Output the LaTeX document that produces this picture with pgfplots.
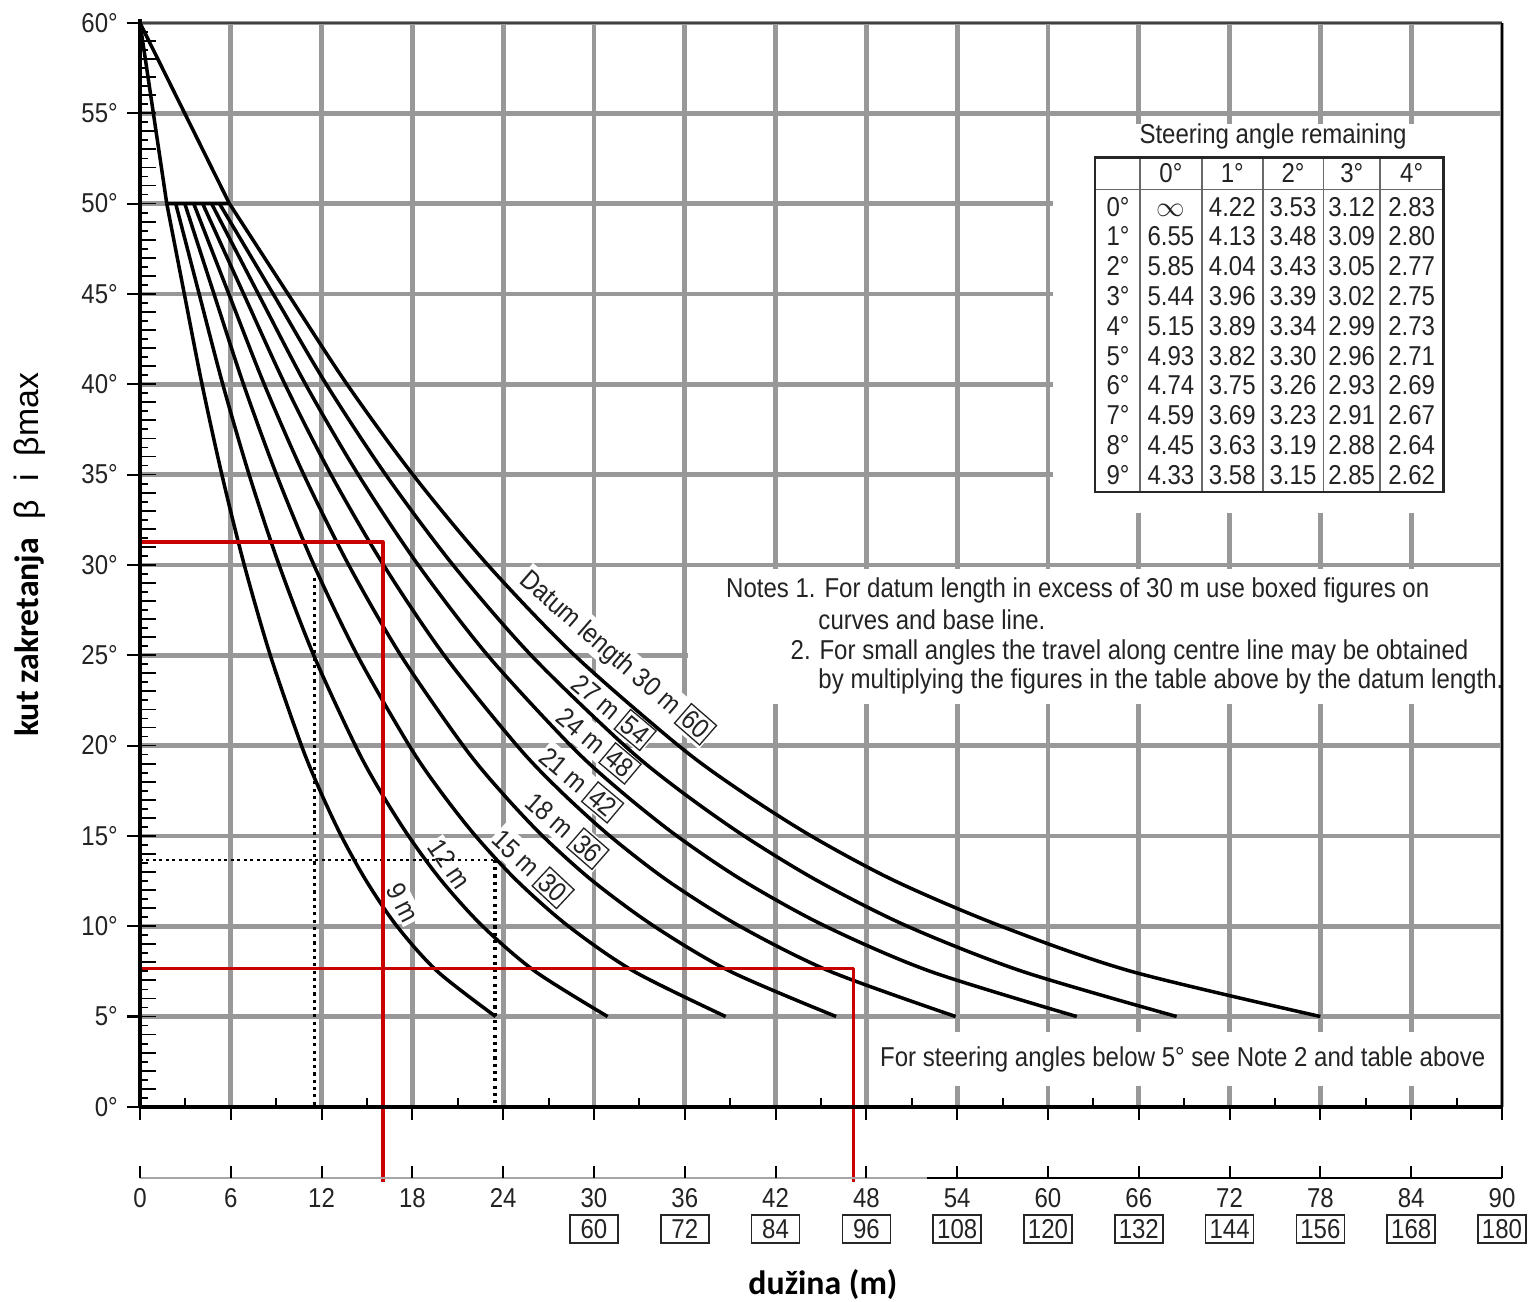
\documentclass[border=0pt]{standalone}
\usepackage{fontspec}
\setmainfont{Liberation Sans}[FakeStretch=0.88]
\newfontfamily\arialfont{Liberation Sans}
\newfontfamily\calib{Carlito}
\usepackage{pgfplots}
\pgfplotsset{compat=1.18}
\definecolor{gridgray}{RGB}{152,152,152}
\definecolor{redline}{RGB}{200,0,0}
\definecolor{tabline}{RGB}{105,105,105}
\definecolor{txt}{RGB}{35,35,35}

\begin{document}
\begin{tikzpicture}[font=\fontsize{10.5}{12.5}\selectfont]
\begin{axis}[
  scale only axis, width=524pt, height=417pt,
  xmin=0, xmax=90, ymin=0, ymax=60,
  clip=false,
  axis line style={draw=none},
  xtick={0,6,...,90}, ytick={0,5,...,60},
  xticklabels={},
  yticklabel={\pgfmathprintnumber{\tick}°},
  /pgf/number format/assume math mode=true,
  xtick pos=bottom, ytick pos=left,
  tick align=outside, major tick length=5pt,
  tick style={black, line width=0.8pt},
  grid=major, major grid style={gridgray, line width=1.8pt},
  yticklabel style={text=txt, font=\fontsize{10.5}{12.5}\selectfont},
]
% white panels that break the grid
\fill[white] (axis cs:60.35,32.9) rectangle (axis cs:89.88,54.4);
\fill[white] (axis cs:36.2,22.3) rectangle (axis cs:89.88,29.8);
\fill[white] (axis cs:48.45,1.15) rectangle (axis cs:89.88,4.15);

% curve labels
\setlength\fboxsep{1pt}\setlength\fboxrule{0.5pt}
\tikzset{lab/.style={fill=white, inner sep=0.6pt, text=txt}}
\node[lab, rotate=-41] at (axis cs:31.45,24.95) {Datum length 30 m \fbox{60}};
\node[lab, rotate=-40] at (axis cs:31.2,21.93) {27 m \fbox{54}};
\node[lab, rotate=-40] at (axis cs:30.2,20.08) {24 m \fbox{48}};
\node[lab, rotate=-40] at (axis cs:29.05,17.92) {21 m \fbox{42}};
\node[lab, rotate=-41] at (axis cs:28.1,15.38) {18 m \fbox{36}};
\node[lab, rotate=-43] at (axis cs:25.85,13.26) {15 m \fbox{30}};
\node[lab, rotate=-56] at (axis cs:20.45,13.45) {12 m};
\node[lab, rotate=-63] at (axis cs:17.4,11.3) {9 m};

% datum length curves
\pgfplotsset{every axis plot/.append style={black, line width=1.35pt, line join=round}}
\addplot[sharp plot] coordinates {(0,60) (1.77,50)};
\addplot[sharp plot] coordinates {(0,60) (5.91,50)};
\addplot[sharp plot] coordinates {(1.77,50) (5.91,50)};
\addplot[smooth] coordinates {(1.77,50)(2.93,45)(4.10,40)(5.41,35)(6.89,30)(8.61,25)(10.67,20)(11.90,17.5)(13.30,15)(14.96,12.5)(16.98,10)(19.65,7.5)(23.5,5)};
\addplot[smooth] coordinates {(2.36,50)(3.91,45)(5.47,40)(7.21,35)(9.19,30)(11.48,25)(14.23,20)(15.86,17.5)(17.74,15)(19.94,12.5)(22.64,10)(26.11,7.5)(30.9,5)};
\addplot[smooth] coordinates {(2.96,50)(4.89,45)(6.84,40)(9.02,35)(11.49,30)(14.36,25)(17.79,20)(19.83,17.5)(22.17,15)(24.93,12.5)(28.31,10)(32.64,7.5)(38.7,5)};
\addplot[smooth] coordinates {(3.55,50)(5.87,45)(8.21,40)(10.82,35)(13.79,30)(17.23,25)(21.35,20)(23.80,17.5)(26.60,15)(29.92,12.5)(33.97,10)(39.0,7.5)(46.0,5)};
\addplot[smooth] coordinates {(4.14,50)(6.85,45)(9.58,40)(12.62,35)(16.09,30)(20.10,25)(24.91,20)(27.76,17.5)(31.04,15)(34.90,12.5)(39.63,10)(45.6,7.5)(53.9,5)};
\addplot[smooth] coordinates {(4.73,50)(7.82,45)(10.94,40)(14.42,35)(18.38,30)(22.97,25)(28.46,20)(31.73,17.5)(35.47,15)(39.89,12.5)(45.29,10)(52.22,7.5)(61.9,5)};
\addplot[smooth] coordinates {(5.25,50)(8.80,45)(12.31,40)(16.23,35)(20.68,30)(25.84,25)(32.02,20)(35.69,17.5)(39.91,15)(44.80,12.5)(50.7,10)(58.3,7.5)(68.5,5)};
\addplot[smooth] coordinates {(5.91,50)(9.78,45)(13.68,40)(18.03,35)(22.98,30)(28.71,25)(35.58,20)(39.66,17.5)(44.34,15)(49.9,12.5)(56.9,10)(65.5,7.5)(78.0,5)};

% dotted reading lines
\addplot[sharp plot, line width=1.2pt, dash pattern=on 1.2pt off 1.6pt] coordinates {(11.56,29.3) (11.56,0)};
\addplot[sharp plot, line width=1.2pt, dash pattern=on 1.2pt off 1.6pt] coordinates {(23.46,13.67) (23.46,0)};
\addplot[sharp plot, line width=0.6pt, dash pattern=on 1pt off 1.5pt] coordinates {(0,13.67) (23.46,13.67)};

% red example lines
\addplot[sharp plot, redline, line width=1.2pt] coordinates {(0,31.27) (16.06,31.27) (16.06,-4.15)};
\addplot[sharp plot, redline, line width=1.2pt] coordinates {(0,7.64) (47.12,7.64) (47.12,-4.15)};

\coordinate (O) at (axis cs:0,0);
\end{axis}

\pgfresetboundingbox
\begin{scope}[shift={(O)}, x=5.82222pt, y=6.95pt]
\path[use as bounding box] (-9.25,-10.79) rectangle (91.85,61.27);

% frame
\draw[black!75, line width=0.9pt] (0,60) -- (90,60);
\draw[black, line width=0.9pt] (90,0) -- (90,60);
\draw[black, line width=1.3pt] (0,0) -- (0,60.2);
\draw[black, line width=1.3pt] (0,0) -- (90,0);

% small inner ticks
\foreach \k in {1,...,119}{
  \pgfmathtruncatemacro\rem{mod(\k,2)}
  \ifnum\rem=0 \def\tl{6pt}\else\def\tl{3.2pt}\fi
  \draw[black, line width=0.7pt] (0,\k/2) -- ++(\tl,0);
}
\foreach \t in {3,9,...,87} \draw[black, line width=0.7pt] (\t,0) -- ++(0,3.5pt);

% base line scale
\draw[gray!70, line width=0.9pt] (0,-3.93) -- (52,-3.93);
\draw[black, line width=0.9pt] (52,-3.93) -- (90,-3.93);
\foreach \t in {0,6,...,90}{
  \draw[black, line width=0.8pt] (\t,-3.93) -- ++(0,4.6pt);
  \node[text=txt] at (\t,-5.04) {\t};
}
\foreach \t [evaluate=\t as \d using int(2*\t)] in {30,36,...,90}
  \node[draw=black!85, line width=0.6pt, minimum width=18.5pt, minimum height=10.8pt, inner sep=0pt, text=txt] at (\t,-6.75) {\d};

% axis titles
\node[rotate=90] at (-7.27,30.55) {{\calib\bfseries\fontsize{13}{15}\selectfont kut zakretanja}\hspace{7pt}{\arialfont\fontsize{13}{15}\selectfont β\hspace{7pt}i\hspace{7pt}βmax}};
\node at (45.13,-9.85) {\calib\bfseries\fontsize{13}{15}\selectfont dužina (m)};

% table
\node[text=txt] at (74.87,53.69) {Steering angle remaining};
\draw[tabline, line width=0.6pt] (63.11,50.79) -- (86.12,50.79);
\foreach \vx in {66.08,70.16,74.19,78.19,81.94}
  \draw[tabline, line width=0.6pt] (\vx,34.04) -- (\vx,52.54);
\draw[black!85, line width=1pt] (63.11,34.04) rectangle (86.12,52.54);
\foreach \cx/\h in {68.12/0,72.18/1,76.19/2,80.07/3,84.03/4}
  \node[anchor=base, inner sep=0pt, text=txt] at (\cx,51.18) {\h°};
\foreach \r/\a/\b/\c/\d/\e in {
  0/$\infty$/4.22/3.53/3.12/2.83,
  1/6.55/4.13/3.48/3.09/2.80,
  2/5.85/4.04/3.43/3.05/2.77,
  3/5.44/3.96/3.39/3.02/2.75,
  4/5.15/3.89/3.34/2.99/2.73,
  5/4.93/3.82/3.30/2.96/2.71,
  6/4.74/3.75/3.26/2.93/2.69,
  7/4.59/3.69/3.23/2.91/2.67,
  8/4.45/3.63/3.19/2.88/2.64,
  9/4.33/3.58/3.15/2.85/2.62}{
  \pgfmathsetmacro\yy{49.31-1.649*\r}
  \node[anchor=base, inner sep=0pt, text=txt] at (64.63,\yy) {\r°};
  \node[anchor=base, inner sep=0pt, text=txt] at (68.12,\yy) {\a};
  \node[anchor=base, inner sep=0pt, text=txt] at (72.18,\yy) {\b};
  \node[anchor=base, inner sep=0pt, text=txt] at (76.19,\yy) {\c};
  \node[anchor=base, inner sep=0pt, text=txt] at (80.07,\yy) {\d};
  \node[anchor=base, inner sep=0pt, text=txt] at (84.03,\yy) {\e};
}

% notes
\node[anchor=base west, inner sep=0pt, text=txt] at (38.7,28.17) {Notes 1. For datum length in excess of 30 m use boxed figures on};
\node[anchor=base west, inner sep=0pt, text=txt] at (44.8,26.40) {curves and base line.};
\node[anchor=base west, inner sep=0pt, text=txt] at (42.96,24.74) {2. For small angles the travel along centre line may be obtained};
\node[anchor=base west, inner sep=0pt, text=txt] at (44.8,23.13) {by multiplying the figures in the table above by the datum length.};
\node[inner sep=0pt, text=txt] at (68.9,2.6) {For steering angles below 5° see Note 2 and table above};
\end{scope}
\end{tikzpicture}
\end{document}
